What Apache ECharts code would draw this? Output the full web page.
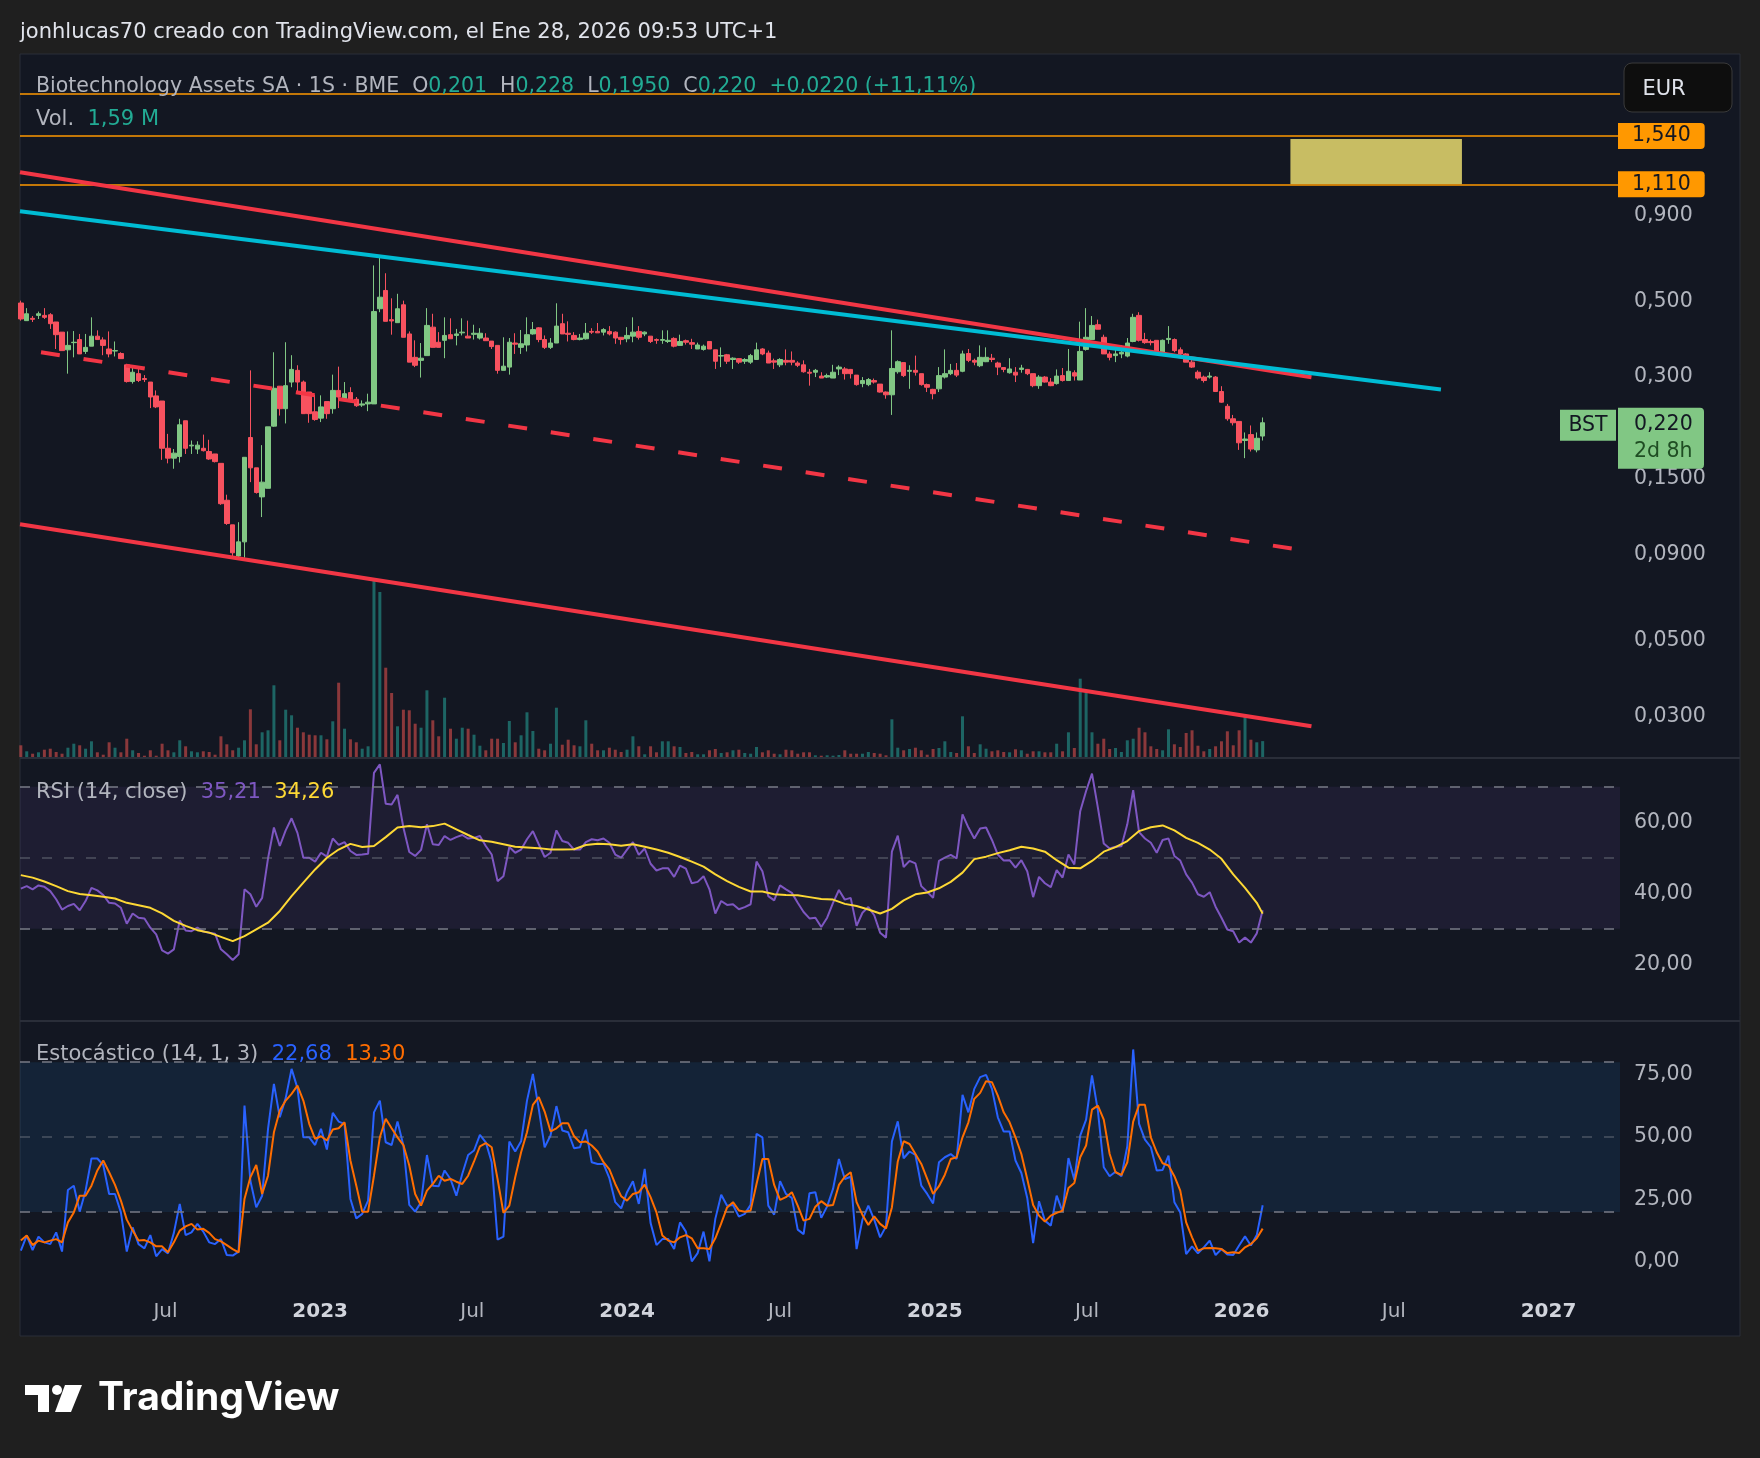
<!DOCTYPE html>
<html>
<head>
<meta charset="utf-8">
<title>BST semanal</title>
<script src="https://cdn.jsdelivr.net/npm/echarts@6/dist/echarts.min.js"></script>
<style>
  html, body { margin: 0; padding: 0; background: #1f1f1f; }
  #chart { width: 1760px; height: 1458px; }
</style>
</head>
<body>
<div id="chart"></div>
<script>
// weekly candles, first bar is the week of 2022-01-10
const firstWeek = '2022-01-10'

const opens = [
  .496,.440,.447,.456,.456,.458,.436,.407,.361,.379, .387,.357,.370,.396,.386,.363,.358,.352,.326,.291,
  .307,.297,.290,.264,.255,.185,.173,.175,.223,.188, .184,.185,.181,.178,.167,.130,.110,.089,.098,.199,
  .162,.133,.141,.215,.282,.242,.290,.314,.290,.271, .237,.227,.254,.242,.274,.259,.270,.258,.248,.250,
  .250,.477,.540,.443,.434,.490,.402,.343,.336,.347, .421,.380,.385,.400,.398,.405,.396,.401,.391,.391,
  .383,.372,.314,.321,.378,.367,.373,.402,.419,.387, .367,.378,.431,.404,.398,.387,.389,.409,.409,.407,
  .409,.407,.393,.389,.396,.409,.402,.396,.387,.385, .382,.390,.372,.384,.379,.363,.362,.382,.361,.346,
  .349,.338,.340,.334,.332,.338,.363,.353,.335,.326, .336,.336,.330,.326,.310,.310,.302,.300,.298,.317,
  .317,.316,.304,.287,.285,.293,.286,.271,.266,.311, .331,.312,.314,.307,.285,.276,.277,.300,.307,.314,
  .312,.352,.336,.324,.333,.341,.330,.320,.309,.310, .316,.316,.307,.283,.300,.290,.287,.303,.293,.309,
  .294,.362,.387,.428,.393,.351,.347,.351,.346,.382, .456,.387,.382,.385,.351,.387,.387,.361,.351,.332,
  .310,.300,.300,.300,.272,.246,.226,.222,.195,.203, .183,.201
]
const highs = [
  .504,.479,.454,.468,.479,.463,.436,.407,.409,.410, .402,.402,.450,.412,.393,.409,.382,.355,.328,.323,
  .319,.304,.290,.274,.255,.204,.184,.226,.223,.195, .194,.203,.196,.178,.167,.135,.110,.112,.174,.314,
  .162,.189,.214,.355,.282,.380,.348,.325,.293,.271, .266,.265,.254,.305,.322,.290,.280,.262,.256,.268,
  .640,.677,.607,.512,.528,.504,.409,.385,.378,.479, .461,.407,.450,.447,.416,.447,.440,.428,.418,.404,
  .383,.372,.393,.391,.404,.413,.450,.436,.421,.398, .391,.495,.461,.438,.407,.402,.433,.418,.433,.418,
  .424,.409,.393,.421,.450,.424,.409,.396,.390,.412, .412,.393,.400,.387,.389,.379,.374,.382,.361,.367,
  .351,.343,.341,.341,.351,.379,.365,.359,.340,.341, .362,.357,.334,.336,.317,.317,.310,.307,.326,.325,
  .321,.317,.304,.300,.298,.297,.286,.272,.412,.336, .331,.325,.347,.307,.287,.277,.321,.362,.328,.330,
  .359,.363,.340,.372,.367,.351,.333,.321,.341,.321, .326,.317,.307,.304,.302,.298,.316,.319,.363,.314,
  .437,.479,.454,.443,.400,.357,.370,.372,.391,.461, .466,.405,.387,.385,.387,.424,.390,.367,.353,.340,
  .314,.303,.310,.302,.282,.250,.232,.222,.206,.216, .206,.228
]
const lows = [
  .440,.440,.436,.445,.445,.416,.363,.359,.307,.343, .351,.351,.370,.387,.348,.343,.345,.340,.289,.287,
  .290,.290,.243,.243,.171,.167,.161,.168,.178,.178, .178,.181,.171,.168,.126,.110,.088,.088,.088,.147,
  .136,.116,.141,.214,.231,.219,.280,.270,.234,.220, .223,.221,.226,.234,.243,.256,.253,.245,.245,.238,
  .250,.466,.438,.400,.434,.393,.332,.321,.299,.347, .367,.367,.341,.389,.372,.398,.391,.387,.387,.384,
  .363,.307,.314,.305,.351,.351,.357,.400,.380,.363, .363,.378,.402,.382,.385,.385,.387,.402,.405,.398,
  .398,.376,.374,.380,.380,.387,.396,.378,.376,.376, .378,.367,.372,.374,.363,.363,.359,.363,.317,.321,
  .328,.317,.328,.328,.328,.338,.348,.330,.317,.321, .325,.325,.321,.309,.283,.300,.298,.298,.298,.304,
  .295,.297,.283,.280,.282,.287,.270,.259,.232,.307, .300,.277,.303,.283,.271,.258,.271,.297,.304,.300,
  .310,.332,.325,.321,.332,.332,.304,.310,.307,.290, .309,.304,.280,.277,.289,.282,.285,.291,.293,.293,
  .294,.359,.387,.415,.351,.336,.332,.341,.343,.380, .382,.376,.372,.354,.351,.376,.355,.345,.332,.319,
  .295,.289,.297,.271,.252,.223,.216,.183,.173,.181, .180,.195
]
const closes = [
  .445,.461,.444,.461,.450,.431,.400,.359,.372,.380, .351,.367,.396,.387,.372,.351,.359,.340,.291,.310,
  .293,.295,.262,.245,.185,.173,.179,.217,.185,.189, .189,.182,.172,.169,.127,.111,.091,.098,.174,.162,
  .137,.147,.214,.278,.242,.283,.316,.290,.234,.234, .225,.245,.234,.274,.262,.268,.254,.247,.250,.253,
  .468,.516,.438,.439,.477,.393,.332,.325,.341,.426, .367,.367,.398,.389,.402,.407,.391,.404,.404,.384,
  .369,.314,.323,.380,.375,.376,.400,.414,.387,.367, .378,.424,.402,.401,.387,.391,.404,.407,.405,.414,
  .402,.391,.387,.398,.407,.393,.407,.382,.385,.387, .385,.370,.382,.380,.375,.373,.370,.363,.334,.347,
  .334,.341,.332,.338,.347,.361,.351,.330,.332,.338, .332,.332,.325,.311,.308,.314,.298,.303,.310,.321,
  .307,.307,.285,.293,.295,.290,.271,.266,.318,.333, .303,.314,.310,.285,.280,.268,.303,.307,.314,.304,
  .351,.336,.332,.343,.343,.338,.321,.316,.317,.304, .319,.307,.283,.300,.290,.283,.302,.293,.312,.302,
  .357,.393,.426,.415,.351,.343,.351,.355,.378,.450, .385,.379,.379,.354,.385,.390,.359,.351,.332,.321,
  .298,.293,.302,.272,.253,.226,.220,.192,.197,.184, .198,.220
]
// weekly volume, millions of shares
const volumes = [
  1.17,0.57,0.33,0.47,0.73,0.83,0.50,0.33,0.93,1.33, 1.17,0.83,1.57,0.47,0.23,1.47,0.93,0.47,1.83,0.67,
  0.40,0.13,0.67,0.13,1.33,0.67,0.47,1.67,1.07,0.57, 0.47,0.57,0.50,0.23,2.07,1.27,0.67,0.93,1.67,4.77,
  1.27,2.47,2.67,7.17,1.67,4.73,4.17,2.93,2.47,2.23, 2.17,2.17,1.77,3.57,7.43,2.83,1.77,1.47,0.83,1.07,
  17.6,16.5,8.93,6.40,3.07,4.73,4.67,3.33,2.93,6.67, 3.67,2.07,5.93,2.83,1.83,2.93,2.83,2.23,1.13,0.67,
  1.83,1.83,1.40,3.60,1.47,2.17,4.47,2.60,0.83,0.67, 1.33,4.93,1.23,1.73,1.17,1.07,3.67,1.33,0.67,0.67,
  0.93,0.73,0.50,0.73,2.07,1.07,0.27,1.07,0.47,1.57, 1.57,1.07,1.00,0.40,0.50,0.27,0.27,0.67,0.80,0.40,
  0.47,0.67,0.73,0.40,0.33,1.00,0.47,0.67,0.33,0.27, 0.73,0.67,0.33,0.47,0.47,0.17,0.13,0.17,0.13,0.20,
  0.67,0.33,0.33,0.33,0.50,0.40,0.33,0.17,3.77,0.93, 0.67,0.80,0.93,0.67,0.23,0.80,0.90,1.57,0.50,0.40,
  4.07,1.07,0.40,1.27,0.83,0.57,0.67,0.50,0.47,0.77, 0.67,0.33,0.57,0.57,0.47,0.47,1.33,0.57,2.47,0.90,
  7.83,6.67,2.47,1.33,1.83,0.80,0.90,0.50,1.67,1.83, 2.93,2.47,1.07,0.80,0.67,2.77,1.27,1.00,2.40,2.67,
  1.13,0.57,0.80,1.07,1.57,2.57,1.17,2.67,4.07,1.73, 1.47,1.59
]
const rsi = [
  41.3,42.0,41.1,42.2,41.8,40.6,38.3,35.4,36.4,37.0, 35.2,37.8,41.5,40.8,39.5,37.3,37.1,35.9,31.4,34.3,
  33.1,32.9,30.3,28.4,23.9,23.0,24.2,32.3,29.5,29.3, 30.3,29.2,28.9,28.6,24.2,22.8,21.2,22.8,41.1,39.7,
  36.2,38.7,49.8,58.5,53.3,57.7,61.1,57.0,50.0,50.0, 48.9,51.4,50.3,55.4,53.6,54.4,51.9,50.8,50.9,51.1,
  73.9,76.3,65.2,65.0,67.7,58.5,51.6,50.5,52.2,59.4, 53.8,53.6,56.1,55.0,55.8,56.4,55.4,55.6,56.1,53.3,
  50.9,43.4,44.8,53.0,51.4,52.3,55.2,57.5,53.8,50.2, 51.4,57.7,54.7,54.2,52.3,52.3,54.4,55.2,54.9,55.4,
  54.2,50.9,50.0,52.3,54.4,50.8,52.6,48.3,46.4,47.0, 47.0,44.6,47.8,46.9,42.8,43.2,44.8,41.1,34.3,37.8,
  36.7,36.9,35.5,36.1,36.9,48.9,46.2,39.2,38.0,42.2, 41.1,40.1,37.3,34.7,32.9,33.1,30.5,33.1,37.3,40.9,
  38.2,38.7,30.8,34.5,36.1,33.8,28.9,27.5,51.7,56.2, 47.4,49.1,48.4,42.0,40.4,38.7,49.1,50.0,50.8,49.8,
  62.2,58.5,55.4,58.2,58.5,55.0,50.9,49.2,49.3,47.2, 49.3,46.2,38.9,44.6,42.8,41.7,46.5,44.4,50.9,48.1,
  63.1,68.8,73.7,64.1,54.0,52.6,53.1,53.2,59.4,69.0, 57.2,55.4,54.2,51.4,55.0,55.4,50.5,49.2,45.3,43.0,
  39.7,39.0,40.3,36.2,33.1,29.8,29.3,26.1,27.5,26.1, 28.7,35.21
]
// RSI moving average, read every second week, plus the last week
const rsiMa = [
  45.1,44.4,43.3,42.0,40.6,39.8,39.4,39.0,38.5,37.3, 36.6,35.9,34.3,32.2,30.8,29.6,28.9,27.7,26.5,27.9,
  29.8,31.7,35.0,39.2,43.0,46.7,50.0,52.3,53.9,53.0, 53.3,55.8,58.5,58.9,58.6,58.9,59.6,58.0,56.4,54.9,
  54.5,53.8,53.1,52.9,52.7,52.3,52.3,52.4,53.6,53.9, 53.8,53.4,53.8,53.1,52.3,51.4,50.2,48.9,47.5,45.3,
  43.4,41.8,40.5,40.5,39.7,39.5,39.4,38.9,38.4,38.2, 37.0,36.4,35.4,34.3,35.6,38.0,39.7,40.2,41.4,43.2,
  45.8,49.6,50.3,51.3,52.1,53.1,52.6,51.7,49.3,47.2, 47.0,49.1,51.7,53.0,54.7,57.5,58.6,59.1,57.7,55.6,
  54.2,52.3,49.7,45.3,41.5,37.3, 34.26
]
const stochK = [
  4.5,10.5,4.7,10.1,7.8,7.1,11.8,4.1,28.8,30.5, 20.1,28.5,41.4,41.4,38.8,27.2,27.2,19.8,4.1,13.8,
  7.1,5.4,10.7,2.2,5.1,3.4,11.6,23.2,10.7,11.8, 15.2,12.1,7.8,7.1,9.1,2.7,2.5,4.1,62.6,32.5,
  21.8,26.5,53.3,71.3,57.9,65.6,77.3,69.6,49.9,49.9, 46.8,53.3,45.0,59.7,56.2,55.3,25.2,17.4,19.2,24.5,
  59.9,64.6,47.9,46.8,56.2,46.6,22.8,20.1,23.9,42.8, 30.5,30.3,36.6,33.2,26.5,35.2,42.8,44.6,50.9,47.9,
  39.9,8.9,10.1,48.2,44.2,48.3,64.6,75.3,61.3,45.9, 50.6,62.4,52.6,51.9,45.5,45.9,53.0,39.9,39.2,39.2,
  33.5,23.9,21.4,27.9,32.3,23.2,37.2,15.6,6.7,9.1, 9.1,5.1,15.8,12.1,0.2,3.5,12.1,0.2,17.2,26.9,
  22.5,22.8,18.1,19.2,22.8,51.3,49.9,22.5,18.9,32.3, 27.2,25.6,12.9,11.1,27.5,27.9,17.6,22.2,29.2,41.2,
  33.2,34.1,5.1,16.9,22.5,16.9,9.8,14.2,48.2,56.3, 41.5,44.2,42.8,30.5,27.2,23.4,39.9,41.9,43.2,41.2,
  66.9,59.9,69.3,74.0,74.9,69.3,57.9,52.2,52.2,40.6, 35.6,25.6,7.5,24.3,16.5,14.5,26.5,20.1,41.6,32.9,
  50.6,57.0,74.7,60.6,37.9,34.3,36.1,34.3,46.3,85.1, 55.3,49.0,45.9,36.6,36.8,42.6,23.9,19.8,3.1,6.2,
  3.4,5.8,8.5,2.7,5.1,2.9,2.7,6.5,10.2,6.5, 10.7,22.68
]
const stochD = [
  8.5,10.5,6.7,8.5,7.8,8.5,9.1,7.8,15.8,19.8, 26.5,26.5,30.5,36.6,40.6,35.9,30.8,24.5,16.9,12.5,
  8.5,8.7,7.8,6.2,6.2,3.8,7.8,12.5,14.2,15.2, 12.9,13.2,11.6,9.1,8.2,6.7,5.1,3.8,25.2,33.9,
  38.8,27.2,34.5,51.9,60.6,64.6,67.3,70.6,64.6,55.3, 49.3,50.3,48.6,53.0,53.5,55.9,40.6,30.5,20.1,20.1,
  34.5,49.9,57.3,53.5,49.9,46.8,38.6,27.2,22.5,28.5, 31.2,34.5,32.5,33.2,32.1,31.2,34.5,40.2,46.3,47.6,
  45.9,33.2,19.6,22.5,33.9,43.9,51.9,62.9,66.0,60.2, 52.3,53.5,55.5,55.5,50.3,47.9,48.2,46.6,44.2,39.9,
  37.0,31.2,26.3,24.5,27.2,27.9,30.9,25.9,19.8,10.5, 8.5,7.8,9.8,10.7,9.4,5.4,5.4,5.1,9.4,15.4,
  21.8,23.9,20.6,20.1,20.6,31.2,41.2,41.2,30.8,24.8, 25.9,27.9,22.5,16.5,17.2,22.1,24.3,22.5,22.8,30.8,
  34.1,35.9,23.9,18.8,14.8,18.2,15.2,13.4,21.8,40.2, 48.3,47.2,43.2,39.2,33.2,27.2,30.3,34.9,41.2,41.9,
  49.9,55.9,65.3,67.7,72.4,72.0,66.6,59.9,55.9,49.9, 43.2,33.2,22.8,18.5,16.1,18.5,19.6,20.5,29.6,31.6,
  41.9,46.6,61.0,62.6,57.0,43.2,35.9,34.8,39.9,56.2, 62.9,62.9,49.9,43.9,39.5,38.6,34.3,28.5,15.8,9.8,
  4.5,5.4,5.5,5.4,5.1,3.5,3.8,3.5,5.8,7.1, 9.4,13.30
]

// drawings on the price pane: [date, price] end points
const upperChannel = [['2022-01-09', 1.205], ['2026-03-25', 0.2997]]
const midChannel = [['2022-02-03', 0.355], ['2026-03-25', 0.0917]]
const lowerChannel = [['2022-01-09', 0.1104], ['2026-03-25', 0.02804]]
const cyanTrend = [['2022-01-09', 0.925], ['2026-08-26', 0.2756]]
const targetBox = [['2026-02-28', 1.51], ['2026-09-20', 1.11]]
const levels = [2.06, 1.54, 1.11]
const levelLabels = [null, '1,540', '1,110']

const priceTicks = [0.03, 0.05, 0.09, 0.15, 0.3, 0.5, 0.9]
const rsiTicks = [20, 40, 60]
const stochTicks = [0, 25, 50, 75]
const timeTicks = ['2022-07-01', '2023-01-01', '2023-07-01', '2024-01-01', '2024-07-01',
  '2025-01-01', '2025-07-01', '2026-01-01', '2026-07-01', '2027-01-01']
const timeTickLabels = ['Jul', '2023', 'Jul', '2024', 'Jul', '2025', 'Jul', '2026', 'Jul', '2027']

const UP = '#81c784'
const DOWN = '#f7525f'
const GREY = '#b2b5be'
const TEAL = '#22ab94'
const FONT = 'DejaVu Sans'
const DAY = 86400000

const t = (s) => Date.parse(s)
const weeks = opens.map((_, i) => t(firstWeek) + i * 7 * DAY)
const xMin = t('2022-01-09')
const xMax = t('2027-03-27')
const tickTimes = timeTicks.map(t)
const comma = (v, d) => v.toFixed(d).replace('.', ',')
const pts = (line) => line.map(([d, p]) => [t(d), p])

const chart = echarts.init(document.getElementById('chart'))

// all panes share one time range, kept as plain millisecond values
const xAxisFor = (gi, withLabels) => ({
  type: 'value', gridIndex: gi, min: xMin, max: xMax,
  axisLine: { show: false }, axisTick: { show: false }, splitLine: { show: false },
  axisLabel: withLabels ? {
    show: true, margin: 10,
    customValues: tickTimes,
    formatter: (v) => {
      const k = tickTimes.indexOf(v)
      const s = k >= 0 ? timeTickLabels[k] : ''
      return s === 'Jul' ? '{m|Jul}' : '{y|' + s + '}'
    },
    rich: {
      m: { color: GREY, fontSize: 20, fontFamily: FONT },
      y: { color: '#d1d4dc', fontSize: 20, fontFamily: FONT, fontWeight: 'bold' }
    }
  } : { show: false }
})

const axisLabel = { color: GREY, fontSize: 20.5, fontFamily: FONT, margin: 14 }

const candleData = weeks.map((w, i) => [w, opens[i], closes[i], lows[i], highs[i]])
const isUp = (i) => closes[i] >= opens[i]

const rsiMaData = rsiMa.map((v, k) => [weeks[k < rsiMa.length - 1 ? k * 2 : weeks.length - 1], v])
const below30 = rsi.map((v) => Math.min(v, 30))
const above70 = rsi.map((v) => Math.max(v, 70))

const dashed = (color) => ({ color, width: 1.5, type: [10, 12] })
const bandLines = (lo, hi) => ({
  silent: true, symbol: 'none', label: { show: false },
  data: [
    { yAxis: hi, lineStyle: dashed('#787b86') },
    { yAxis: (lo + hi) / 2, lineStyle: dashed('rgba(120,123,134,0.55)') },
    { yAxis: lo, lineStyle: dashed('#787b86') }
  ]
})

const lineSeries = (name, line, color, type) => ({
  name, type: 'line', xAxisIndex: 0, yAxisIndex: 0, data: pts(line),
  symbol: 'none', z: 5, silent: true,
  lineStyle: { color, width: 4, type: type || 'solid', cap: 'butt' }
})

const option = {
  backgroundColor: '#1f1f1f',
  animation: false,
  textStyle: { fontFamily: FONT },
  grid: [
    { left: 20, right: 140, top: 54, height: 703 },
    { left: 20, right: 140, top: 759, height: 261 },
    { left: 20, right: 140, top: 1022, height: 270 }
  ],
  xAxis: [xAxisFor(0, false), xAxisFor(1, false), xAxisFor(2, true)],
  yAxis: [
    {
      type: 'log', gridIndex: 0, position: 'right', min: 0.02275, max: 2.689,
      axisLine: { show: false }, axisTick: { show: false }, splitLine: { show: false },
      axisLabel: Object.assign({}, axisLabel, {
        customValues: priceTicks,
        formatter: (v) => comma(v, v >= 0.2 ? 3 : 4)
      })
    },
    { type: 'value', gridIndex: 0, min: 0, max: 70.3, show: false },
    {
      type: 'value', gridIndex: 1, position: 'right', min: 4.3, max: 77.8,
      axisLine: { show: false }, axisTick: { show: false }, splitLine: { show: false },
      axisLabel: Object.assign({}, axisLabel, { customValues: rsiTicks, formatter: (v) => comma(v, 2) })
    },
    {
      type: 'value', gridIndex: 2, position: 'right', min: -12.1, max: 96.1,
      axisLine: { show: false }, axisTick: { show: false }, splitLine: { show: false },
      axisLabel: Object.assign({}, axisLabel, { customValues: stochTicks, formatter: (v) => comma(v, 2) })
    }
  ],
  series: [
    {
      name: 'Vol', type: 'bar', xAxisIndex: 0, yAxisIndex: 1, barWidth: 3, z: 1,
      data: weeks.map((w, i) => [w, volumes[i]]),
      itemStyle: { color: (p) => isUp(p.dataIndex) ? 'rgba(38,166,154,0.55)' : 'rgba(239,83,80,0.55)' }
    },
    {
      name: 'BST', type: 'candlestick', xAxisIndex: 0, yAxisIndex: 0, z: 3,
      barWidth: 5,
      encode: { x: 0, y: [1, 2, 3, 4] },
      data: candleData,
      itemStyle: { color: UP, color0: DOWN, borderColor: UP, borderColor0: DOWN, borderWidth: 1 },
      markLine: {
        silent: true, symbol: 'none',
        lineStyle: { color: '#ff9800', width: 1.5, type: 'solid' },
        data: levels.map((v, k) => ({
          yAxis: v,
          label: levelLabels[k] ? {
            show: true, position: 'end', formatter: levelLabels[k], distance: -2,
            color: '#131722', backgroundColor: '#ff9800', fontSize: 20.5, fontFamily: FONT,
            padding: [3, 14, 2, 14], borderRadius: [0, 4, 4, 0]
          } : { show: false }
        }))
      },
      markArea: {
        silent: true,
        itemStyle: { color: '#c8bd63' },
        data: [[
          { xAxis: t(targetBox[0][0]), yAxis: targetBox[0][1] },
          { xAxis: t(targetBox[1][0]), yAxis: targetBox[1][1] }
        ]]
      }
    },
    lineSeries('upper', upperChannel, '#f23645'),
    lineSeries('mid', midChannel, '#f23645', [19, 24]),
    lineSeries('lower', lowerChannel, '#f23645'),
    lineSeries('trend', cyanTrend, '#00bcd4'),
    // RSI pane
    {
      name: 'os base', type: 'line', xAxisIndex: 1, yAxisIndex: 2, stack: 'os', symbol: 'none',
      data: weeks.map((w, i) => [w, below30[i]]), lineStyle: { opacity: 0 }, silent: true
    },
    {
      name: 'os fill', type: 'line', xAxisIndex: 1, yAxisIndex: 2, stack: 'os', symbol: 'none',
      data: weeks.map((w, i) => [w, 30 - below30[i]]), lineStyle: { opacity: 0 }, silent: true,
      areaStyle: { color: 'rgba(242,54,69,0.28)' }
    },
    {
      name: 'ob base', type: 'line', xAxisIndex: 1, yAxisIndex: 2, stack: 'ob', symbol: 'none',
      data: weeks.map((w) => [w, 70]), lineStyle: { opacity: 0 }, silent: true
    },
    {
      name: 'ob fill', type: 'line', xAxisIndex: 1, yAxisIndex: 2, stack: 'ob', symbol: 'none',
      data: weeks.map((w, i) => [w, above70[i] - 70]), lineStyle: { opacity: 0 }, silent: true,
      areaStyle: { color: 'rgba(76,175,80,0.22)' }
    },
    {
      name: 'RSI', type: 'line', xAxisIndex: 1, yAxisIndex: 2, symbol: 'none', z: 4,
      data: weeks.map((w, i) => [w, rsi[i]]),
      lineStyle: { color: '#7e57c2', width: 2 },
      markArea: { silent: true, itemStyle: { color: 'rgba(126,87,194,0.1)' }, data: [[{ yAxis: 30 }, { yAxis: 70 }]] },
      markLine: bandLines(30, 70)
    },
    {
      name: 'RSI MA', type: 'line', xAxisIndex: 1, yAxisIndex: 2, symbol: 'none', z: 5,
      data: rsiMaData, lineStyle: { color: '#fdd835', width: 2 }
    },
    // Stochastic pane
    {
      name: '%K', type: 'line', xAxisIndex: 2, yAxisIndex: 3, symbol: 'none', z: 4,
      data: weeks.map((w, i) => [w, stochK[i]]),
      lineStyle: { color: '#2962ff', width: 2 },
      markArea: { silent: true, itemStyle: { color: 'rgba(33,150,243,0.1)' }, data: [[{ yAxis: 20 }, { yAxis: 80 }]] },
      markLine: bandLines(20, 80)
    },
    {
      name: '%D', type: 'line', xAxisIndex: 2, yAxisIndex: 3, symbol: 'none', z: 5,
      data: weeks.map((w, i) => [w, stochD[i]]),
      lineStyle: { color: '#ff6d00', width: 2 }
    }
  ]
}

const f21 = '21px "' + FONT + '"'
const txt = (x, y, text, rich, extra) => ({
  type: 'text', z: 100, silent: true,
  style: Object.assign({ x, y, text, rich, font: f21, verticalAlign: 'middle', fill: GREY }, extra || {})
})

const last = closes.length - 1
const baseGraphic = [
  { type: 'rect', z: -10, silent: true, shape: { x: 20, y: 54, width: 1720, height: 1282 },
    style: { fill: '#131722', stroke: '#2a2e39', lineWidth: 1 } },
  { type: 'line', z: 1, silent: true, shape: { x1: 20, y1: 758, x2: 1740, y2: 758 }, style: { stroke: '#2a2e39', lineWidth: 2 } },
  { type: 'line', z: 1, silent: true, shape: { x1: 20, y1: 1021, x2: 1740, y2: 1021 }, style: { stroke: '#2a2e39', lineWidth: 2 } },
  txt(20, 33, 'jonhlucas70 creado con TradingView.com, el Ene 28, 2026 09:53 UTC+1', null, { fill: '#e0e3eb', font: f21 }),
  txt(36, 87,
    '{g|Biotechnology Assets SA · 1S · BME  O}{t|' + comma(opens[last], 3) + '}{g|  H}{t|' + comma(highs[last], 3) +
    '}{g|  L}{t|' + comma(lows[last], 4) + '}{g|  C}{t|' + comma(closes[last], 3) + '}{t|  +0,0220 (+11,11%)}',
    { g: { fill: GREY, font: '20.5px "' + FONT + '"' }, t: { fill: TEAL, font: '20.5px "' + FONT + '"' } }),
  txt(36, 120, '{g|Vol.}  {t|1,59 M}', { g: { fill: GREY, font: f21 }, t: { fill: TEAL, font: f21 } }),
  txt(36, 793, '{g|RSI (14, close)}  {p|' + comma(rsi[last], 2) + '}  {y|' + comma(rsiMa[rsiMa.length - 1], 2) + '}',
    { g: { fill: GREY, font: f21 }, p: { fill: '#7e57c2', font: f21 }, y: { fill: '#fdd835', font: f21 } }),
  txt(36, 1055, '{g|Estocástico (14, 1, 3)}  {b|' + comma(stochK[last], 2) + '}  {o|' + comma(stochD[last], 2) + '}',
    { g: { fill: GREY, font: f21 }, b: { fill: '#2962ff', font: f21 }, o: { fill: '#ff6d00', font: f21 } }),
  { type: 'rect', z: 100, silent: true, shape: { x: 1624, y: 63, width: 108, height: 49, r: 8 },
    style: { fill: '#0e0e0e', stroke: '#3a3a3a', lineWidth: 1 } },
  txt(1664, 90, 'EUR', null, { fill: '#e0e3eb', align: 'center' }),
  // TradingView logo
  { type: 'rect', z: 100, silent: true, shape: { x: 25, y: 1385, width: 24, height: 10 }, style: { fill: '#ffffff' } },
  { type: 'rect', z: 100, silent: true, shape: { x: 38, y: 1385, width: 11, height: 27 }, style: { fill: '#ffffff' } },
  { type: 'circle', z: 100, silent: true, shape: { cx: 57, cy: 1390, r: 5 }, style: { fill: '#ffffff' } },
  { type: 'polygon', z: 100, silent: true, shape: { points: [[65, 1385], [82, 1385], [71, 1412], [55, 1412]] }, style: { fill: '#ffffff' } },
  txt(98, 1398, 'TradingView', null, { fill: '#ffffff', font: 'bold 39px Inter' })
]
option.graphic = baseGraphic
chart.setOption(option)

// last price tag on the price scale
const yLast = chart.convertToPixel({ yAxisIndex: 0 }, closes[last])
const tag = [
  { type: 'rect', z: 100, silent: true, shape: { x: 1560, y: yLast - 13, width: 56, height: 31 }, style: { fill: UP } },
  txt(1588, yLast + 3, 'BST', null, { fill: '#131722', align: 'center', font: '20.5px "' + FONT + '"' }),
  { type: 'rect', z: 100, silent: true, shape: { x: 1618, y: yLast - 15, width: 86, height: 61, r: [0, 4, 4, 0] }, style: { fill: UP } },
  txt(1634, yLast + 2, comma(closes[last], 3), null, { fill: '#131722', font: '20.5px "' + FONT + '"' }),
  txt(1634, yLast + 29, '2d 8h', null, { fill: '#1f4d23', font: '20.5px "' + FONT + '"' })
]
chart.setOption({ graphic: baseGraphic.concat(tag) })
</script>
</body>
</html>
